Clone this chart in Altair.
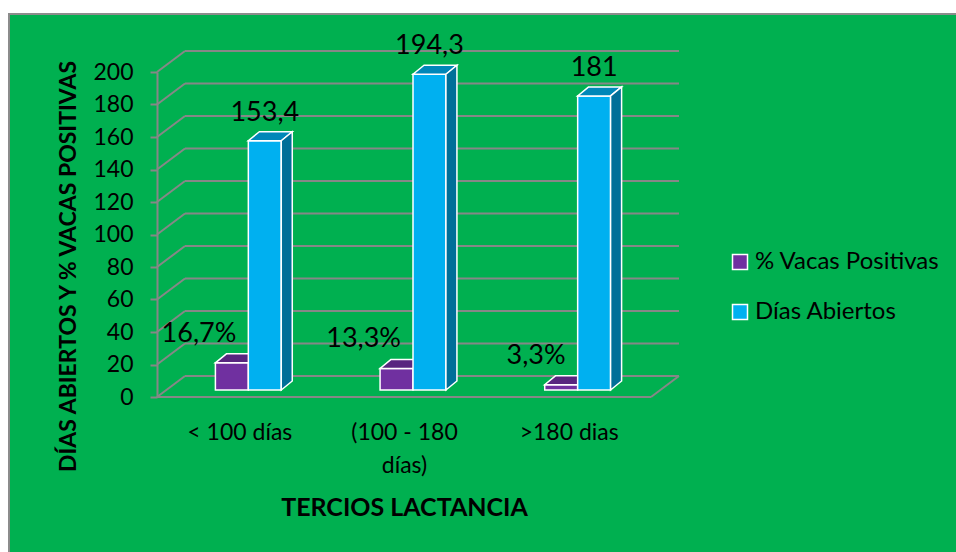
import json

import altair as alt
import pandas as pd

# ---------------- data ----------------
CATEGORIES = ["< 100 días", "(100 - 180 días)", ">180 dias"]
CATEGORY_LINES = [["< 100 días"], ["(100 - 180", "días)"], [">180 dias"]]
SERIES = ["% Vacas Positivas", "Días Abiertos"]
VACAS_POSITIVAS = [16.7, 13.3, 3.3]
DIAS_ABIERTOS = [153.4, 194.3, 181]
Y_TICKS = [0, 20, 40, 60, 80, 100, 120, 140, 160, 180, 200]

# ---------------- layout / style ----------------
W, H = 494, 325                      # front plane of the plot
PAD = {"left": 157, "top": 72, "right": 305, "bottom": 155}
Y_MAX = 200
WALL_DX, WALL_DY = 28, 21            # depth of the back wall (px)
BAR_DX, BAR_DY = 9, 7                # bars sit part-way into the depth (px)
FACE_DX, FACE_DY = 11, 9             # thickness of each 3-D bar (px)
BAR_W = 0.2                          # bar width, in category units

FONT = "Lato"
GREEN = "#00B050"
GRID = "#878787"
PURPLE, PURPLE_TOP = "#7030A0", "#58267F"
BLUE, BLUE_TOP, BLUE_SIDE = "#00B0F0", "#0087B8", "#006F98"
OUTLINE = "white"

n_cat = len(CATEGORIES)
face_dx = FACE_DX * n_cat / W        # bar thickness in data units
face_dy = FACE_DY * Y_MAX / H


def fmt(v, suffix=""):
    return f"{v:g}".replace(".", ",") + suffix


# ---------------- tables ----------------
bars, tops, sides = [], [], []
for i, cat in enumerate(CATEGORIES):
    for k, (serie, vals, suffix) in enumerate(
        [(SERIES[0], VACAS_POSITIVAS, "%"), (SERIES[1], DIAS_ABIERTOS, "")]
    ):
        v = vals[i]
        x0 = i + 0.5 - BAR_W + k * BAR_W
        x1 = x0 + BAR_W
        key = f"{i}-{k}"
        bars.append(dict(cat=cat, serie=serie, x0=x0, x1=x1, xc=(x0 + x1) / 2,
                         v=v, label=fmt(v, suffix)))
        tops.append(dict(key=key, serie=serie, y=v, xa=x0, xb=x1))
        tops.append(dict(key=key, serie=serie, y=v + face_dy,
                         xa=x0 + face_dx, xb=x1 + face_dx))
        sides.append(dict(key=key, serie=serie, x=x1, y=v, y2=0))
        sides.append(dict(key=key, serie=serie, x=x1 + face_dx,
                          y=v + face_dy, y2=face_dy))

bars = pd.DataFrame(bars)
tops = pd.DataFrame(tops)
sides = pd.DataFrame(sides)
grid = pd.DataFrame({"v": Y_TICKS, "xa": 0.0, "xb": float(n_cat)})
floor = pd.DataFrame({"v": [0], "xa": [0.0], "xb": [float(n_cat)]})

# ---------------- scales / guides ----------------
X_SCALE = alt.Scale(domain=[0, n_cat], nice=False, zero=False)
Y_SCALE = alt.Scale(domain=[0, Y_MAX], nice=False)

label_expr = f"{json.dumps(CATEGORY_LINES, ensure_ascii=False)}[floor(datum.value)]"
X_AXIS = alt.Axis(
    values=[i + 0.5 for i in range(n_cat)], labelExpr=label_expr,
    domain=False, ticks=False, grid=False, zindex=1,
    labelFont=FONT, labelFontSize=23, labelColor="black",
    labelPadding=35, labelLineHeight=33, labelBaseline="middle",
    title="TERCIOS LACTANCIA", titleFont=FONT, titleFontSize=25,
    titleFontWeight="bold", titleColor="black",
    titleX=W / 2, titleY=110, titleBaseline="middle", titleAlign="center",
)
Y_AXIS = alt.Axis(
    values=Y_TICKS, grid=False, zindex=1,
    domainColor=GRID, domainWidth=2, tickColor=GRID, tickWidth=2, tickSize=7,
    labelFont=FONT, labelFontSize=23, labelColor="black", labelPadding=17,
    title="DÍAS ABIERTOS Y % VACAS POSITIVAS", titleFont=FONT,
    titleFontSize=23, titleFontWeight="bold", titleColor="black",
    titleAngle=270, titleX=-89, titleY=194,
    titleBaseline="middle", titleAlign="center",
)


def X(field):
    return alt.X(field, scale=X_SCALE, axis=X_AXIS)


def Y(field):
    return alt.Y(field, scale=Y_SCALE, axis=Y_AXIS)


COLOR = alt.Color(
    "serie:N",
    scale=alt.Scale(domain=SERIES, range=[PURPLE, BLUE]),
    legend=alt.Legend(
        orient="none", legendX=571, legendY=178, title=None, padding=0,
        symbolType="square", symbolSize=225, symbolStrokeColor=OUTLINE,
        symbolStrokeWidth=1.5, symbolOpacity=1,
        labelFont=FONT, labelFontSize=24, labelColor="black", labelLimit=0,
        labelOffset=3, rowPadding=26,
    ),
)

# ---------------- layers ----------------
background = alt.Chart(pd.DataFrame({"a": [0]})).mark_rect(
    fill=GREEN, stroke="#8C8C8C", strokeWidth=2
).encode(
    x=alt.value(-PAD["left"] + 9), x2=alt.value(W + PAD["right"] + 20),
    y=alt.value(-PAD["top"] + 14), y2=alt.value(H + PAD["bottom"] + 20),
)

back_wall = alt.Chart(grid).mark_rule(
    color=GRID, strokeWidth=2, xOffset=WALL_DX, x2Offset=WALL_DX, yOffset=-WALL_DY
).encode(x=X("xa:Q"), x2="xb:Q", y=Y("v:Q"))

side_wall = alt.Chart(grid).mark_rule(
    color=GRID, strokeWidth=2, x2Offset=WALL_DX, y2Offset=-WALL_DY
).encode(x=X("xa:Q"), x2="xa:Q", y=Y("v:Q"), y2="v:Q")

floor_front = alt.Chart(floor).mark_rule(color=GRID, strokeWidth=2).encode(
    x=X("xa:Q"), x2="xb:Q", y=Y("v:Q")
)
floor_side = alt.Chart(floor).mark_rule(
    color=GRID, strokeWidth=2, x2Offset=WALL_DX, y2Offset=-WALL_DY
).encode(x=X("xb:Q"), x2="xb:Q", y=Y("v:Q"), y2="v:Q")


def front(serie):
    return alt.Chart(bars).transform_filter(
        alt.datum.serie == serie
    ).mark_rect(
        stroke=OUTLINE, strokeWidth=1.5,
        xOffset=BAR_DX, x2Offset=BAR_DX, yOffset=-BAR_DY, y2Offset=-BAR_DY,
    ).encode(x=X("x0:Q"), x2="x1:Q", y=Y("v:Q"), y2=alt.datum(0), color=COLOR)


def top(serie, fill):
    return alt.Chart(tops).transform_filter(
        alt.datum.serie == serie
    ).mark_area(
        orient="horizontal", fill=fill, stroke=OUTLINE, strokeWidth=1.5,
        opacity=1, xOffset=BAR_DX, x2Offset=BAR_DX, yOffset=-BAR_DY,
    ).encode(y=Y("y:Q"), x=X("xa:Q"), x2="xb:Q", detail="key:N")


def side(serie, fill):
    return alt.Chart(sides).transform_filter(
        alt.datum.serie == serie
    ).mark_area(
        orient="vertical", fill=fill, stroke=OUTLINE, strokeWidth=1.5,
        opacity=1, xOffset=BAR_DX, yOffset=-BAR_DY, y2Offset=-BAR_DY,
    ).encode(x=X("x:Q"), y=Y("y:Q"), y2="y2:Q", detail="key:N")


purple_labels = alt.Chart(bars).transform_filter(
    alt.datum.serie == SERIES[0]
).mark_text(
    font=FONT, fontSize=27, color="black", align="right", baseline="middle",
    dx=BAR_DX - 12, dy=-BAR_DY - 29,
).encode(x=X("x1:Q"), y=Y("v:Q"), text="label:N")

blue_labels = alt.Chart(bars).transform_filter(
    alt.datum.serie == SERIES[1]
).mark_text(
    font=FONT, fontSize=27, color="black", align="center", baseline="middle",
    dx=BAR_DX, dy=-BAR_DY - 28,
).encode(x=X("xc:Q"), y=Y("v:Q"), text="label:N")

chart = alt.layer(
    background, back_wall, side_wall, floor_front, floor_side,
    front(SERIES[0]), top(SERIES[0], PURPLE_TOP),
    front(SERIES[1]), top(SERIES[1], BLUE_TOP), side(SERIES[1], BLUE_SIDE),
    purple_labels, blue_labels,
).properties(
    width=W, height=H,
    autosize=alt.AutoSizeParams(type="none"),
    padding=PAD,
    background="white",
).configure_view(stroke=None)

chart.save("out.html", embed_options={"renderer": "svg", "actions": False})
